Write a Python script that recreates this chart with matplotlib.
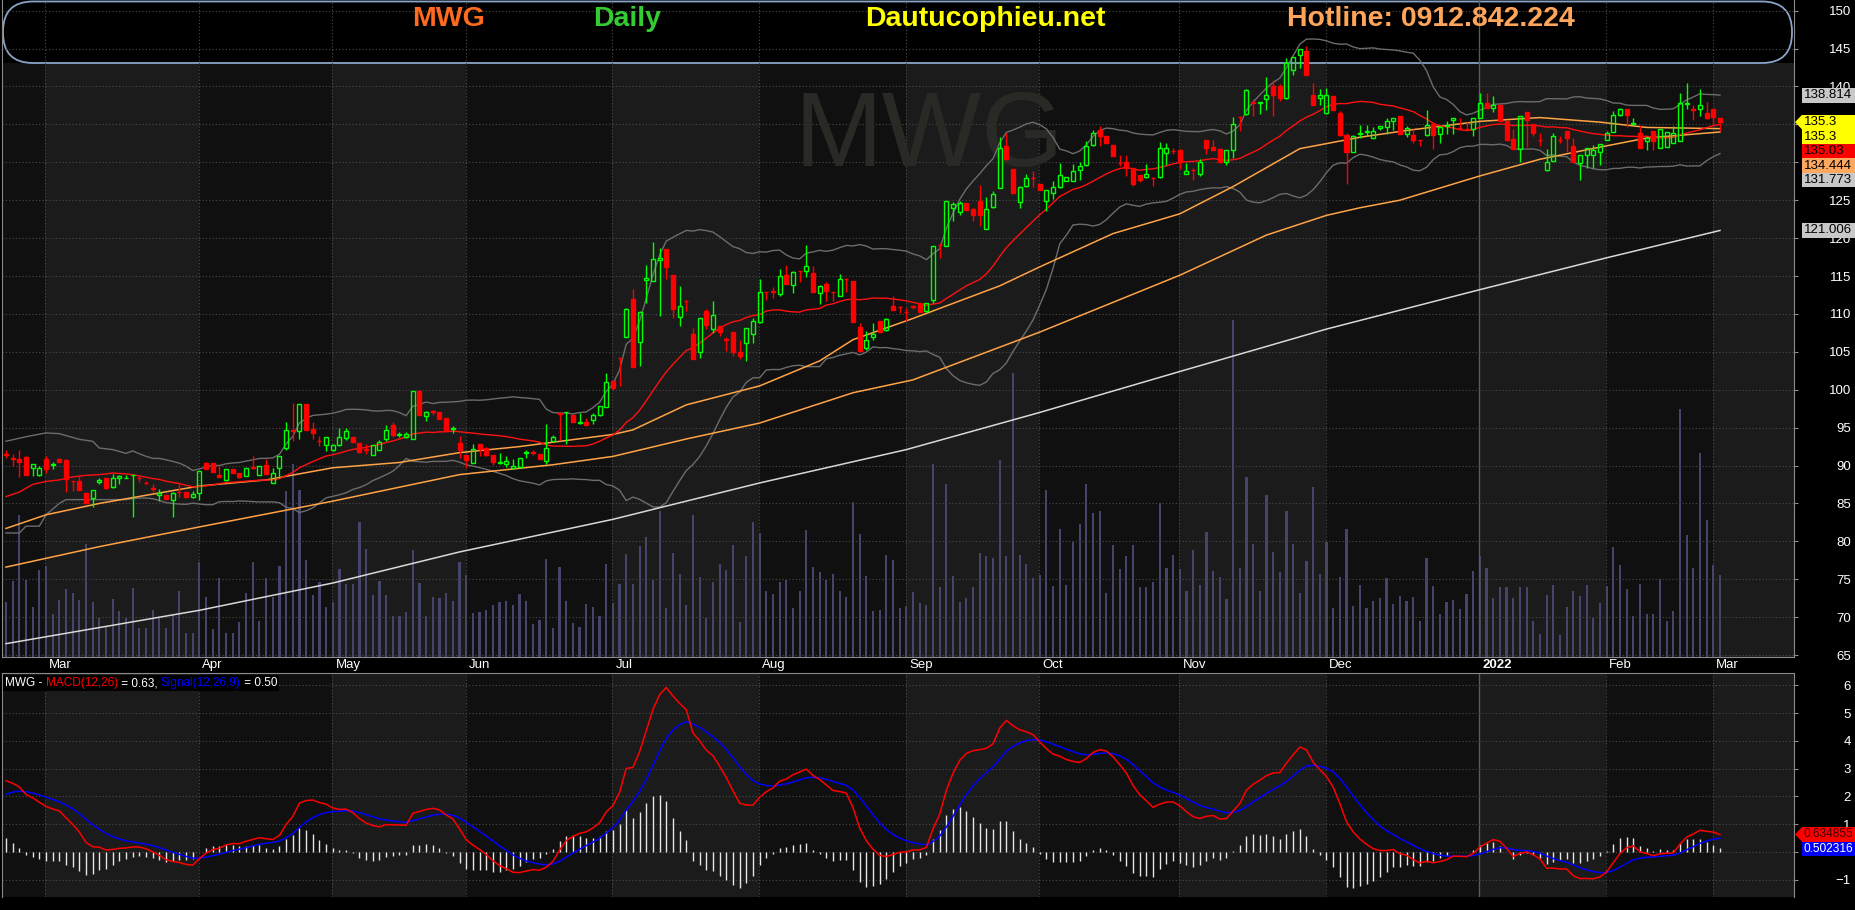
import matplotlib
matplotlib.use("Agg")
import matplotlib.pyplot as plt
import matplotlib.transforms as mtransforms
from matplotlib.patches import FancyBboxPatch, Rectangle, Polygon
import numpy as np
import pandas as pd

plt.rcParams['font.family'] = ['Liberation Sans', 'DejaVu Sans']

W, H = 1855, 910

# daily candles, late Feb 2021 .. 2 Mar 2022
opens = [
    91.5, 91.0, 90.8, 91.1, 89.7, 88.7, 90.9, 90.1, 90.9, 90.7,
    87.95, 87.9, 86.4, 85.7, 87.8, 88.4, 87.2, 88.3, 88.35, 88.7,
    88.4, 87.7, 87.0, 86.1, 86.1, 85.5, 86.5, 86.5, 85.9, 86.4,
    90.35, 90.35, 88.8, 88.05, 89.5, 89.0, 88.6, 89.8, 88.8, 90.1,
    87.7, 89.7, 92.3, 94.7, 94.5, 98.05, 94.8, 93.3, 92.7, 92.0,
    92.7, 93.6, 93.8, 93.0, 92.15, 91.4, 92.1, 93.5, 95.4, 94.05,
    93.8, 93.5, 99.8, 96.5, 97.15, 97.1, 96.3, 94.8, 93.0, 91.4,
    90.3, 92.9, 92.3, 91.4, 90.35, 90.2, 89.7, 89.8, 91.7, 91.75,
    91.5, 90.6, 93.2, 96.9, 97.0, 96.6, 95.6, 95.7, 96.0, 96.6,
    97.7, 101.1, 104.2, 106.9, 112.0, 106.3, 114.5, 114.3, 117.1, 118.5,
    115.1, 109.6, 111.7, 107.3, 105.0, 110.4, 108.0, 108.4, 106.65, 107.6,
    105.0, 106.2, 107.4, 108.9, 112.9, 113.0, 112.6, 115.1, 113.8, 115.7,
    115.7, 115.4, 112.7, 114.0, 112.9, 112.3, 114.65, 114.4, 108.3, 105.5,
    107.0, 109.0, 107.9, 111.0, 110.9, 110.25, 111.0, 111.4, 110.4, 111.8,
    119.15, 118.9, 124.0, 123.5, 124.6, 123.8, 124.9, 121.2, 124.1, 126.6,
    132.2, 129.1, 124.7, 126.9, 127.95, 127.1, 124.9, 126.0, 126.7, 127.5,
    127.5, 129.0, 129.6, 132.3, 134.2, 133.5, 132.3, 129.9, 130.05, 129.2,
    128.3, 128.0, 127.95, 128.0, 131.2, 131.55, 131.6, 128.5, 129.0, 128.4,
    133.0, 132.0, 131.8, 130.0, 131.6, 136.0, 136.4, 137.9, 137.8, 138.4,
    140.0, 140.0, 138.5, 142.2, 144.1, 144.7, 138.9, 138.5, 136.5, 138.8,
    136.5, 133.6, 131.4, 133.7, 134.0, 133.2, 134.5, 134.7, 135.4, 136.05,
    133.7, 133.6, 133.0, 133.6, 135.0, 133.7, 134.8, 135.6, 134.55, 134.45,
    134.4, 135.9, 137.8, 137.1, 137.5, 135.5, 133.1, 131.8, 136.6, 135.0,
    133.0, 129.0, 130.2, 133.0, 134.1, 132.2, 129.9, 131.0, 130.9, 131.3,
    133.0, 134.0, 136.3, 137.0, 135.0, 133.9, 132.8, 134.1, 131.9, 132.0,
    132.5, 132.8, 137.7, 137.0, 137.0, 136.5, 137.0, 135.8,
]
highs = [
    92.1, 91.5, 92.1, 91.2, 90.2, 90.0, 91.2, 90.4, 91.0, 90.9,
    88.0, 88.6, 86.4, 86.8, 88.3, 88.4, 88.9, 88.7, 88.7, 88.8,
    88.6, 88.0, 87.5, 86.9, 86.1, 86.5, 87.6, 86.5, 86.7, 89.3,
    90.4, 90.35, 90.0, 89.5, 89.5, 89.0, 89.7, 91.2, 89.9, 90.9,
    89.7, 91.2, 95.7, 98.3, 98.1, 98.1, 95.7, 93.9, 93.7, 92.8,
    95.0, 95.0, 93.8, 93.0, 92.8, 92.7, 93.4, 95.3, 95.7, 94.4,
    94.4, 99.8, 99.8, 97.2, 97.3, 97.1, 96.3, 95.2, 93.9, 91.4,
    92.9, 92.9, 92.5, 91.4, 91.6, 91.3, 90.9, 91.0, 92.1, 92.1,
    91.5, 95.5, 94.0, 96.9, 97.1, 96.6, 96.9, 96.3, 96.9, 97.8,
    102.2, 101.1, 104.2, 110.8, 113.3, 110.4, 116.4, 119.5, 118.7, 118.5,
    115.1, 113.7, 111.8, 108.2, 109.4, 110.7, 111.7, 108.4, 107.0, 107.6,
    106.6, 108.2, 109.5, 114.6, 112.9, 113.5, 115.9, 116.4, 115.7, 115.7,
    119.1, 116.3, 113.8, 114.2, 112.9, 115.2, 114.7, 114.4, 108.8, 107.7,
    108.8, 109.1, 109.5, 112.3, 111.0, 110.8, 111.1, 111.4, 111.4, 118.9,
    119.3, 124.9, 124.8, 124.9, 124.6, 124.0, 127.0, 125.4, 126.2, 133.4,
    133.9, 129.1, 126.9, 128.4, 128.9, 127.1, 126.3, 127.5, 129.9, 128.0,
    129.8, 130.0, 132.8, 134.2, 134.8, 133.5, 132.3, 130.9, 130.9, 129.2,
    128.3, 129.8, 128.0, 132.7, 132.5, 131.9, 131.8, 129.9, 129.2, 130.5,
    133.0, 133.0, 131.8, 131.6, 136.0, 136.1, 139.7, 138.4, 137.9, 141.3,
    140.8, 140.3, 143.8, 143.9, 145.0, 145.4, 140.5, 139.7, 139.8, 138.8,
    136.8, 133.8, 133.6, 134.9, 134.9, 134.7, 134.8, 135.9, 135.9, 136.05,
    134.8, 134.4, 133.0, 136.9, 135.0, 134.8, 135.4, 135.9, 135.9, 135.3,
    135.9, 139.1, 139.2, 138.7, 137.5, 135.5, 134.4, 136.1, 136.6, 135.0,
    133.9, 131.8, 133.9, 133.5, 134.1, 133.2, 131.0, 131.9, 132.3, 132.4,
    134.1, 136.8, 137.2, 137.0, 135.9, 134.9, 133.5, 134.1, 134.4, 134.0,
    134.8, 139.1, 140.5, 137.6, 139.7, 137.9, 137.0, 135.8,
]
lows = [
    91.0, 89.9, 88.5, 88.8, 88.6, 88.6, 89.0, 89.5, 90.4, 86.5,
    86.7, 86.8, 85.0, 84.5, 87.6, 86.9, 87.0, 87.6, 88.3, 83.2,
    87.8, 87.6, 86.5, 85.3, 85.6, 83.2, 85.9, 85.8, 85.7, 85.5,
    89.5, 89.1, 88.5, 88.0, 89.0, 88.4, 88.6, 89.5, 88.8, 88.9,
    87.7, 88.4, 92.1, 93.2, 93.5, 94.7, 93.5, 92.6, 91.9, 91.9,
    92.6, 93.4, 93.1, 91.6, 91.5, 91.4, 92.0, 93.3, 93.8, 93.7,
    93.6, 93.5, 96.6, 95.9, 96.6, 96.2, 94.5, 94.3, 91.0, 89.7,
    90.3, 91.2, 91.2, 90.1, 90.2, 89.8, 89.7, 89.7, 91.0, 91.4,
    90.9, 90.2, 93.1, 93.4, 92.8, 95.7, 95.5, 95.4, 95.5, 96.5,
    97.7, 100.0, 100.5, 106.9, 103.0, 103.1, 111.4, 114.3, 109.7, 114.6,
    109.4, 108.4, 110.4, 104.1, 104.2, 108.0, 107.5, 107.1, 105.1, 104.4,
    104.0, 103.8, 106.2, 108.8, 111.8, 112.1, 112.4, 113.9, 112.8, 114.2,
    114.9, 112.9, 111.3, 111.7, 111.7, 112.3, 112.9, 108.9, 105.1, 105.2,
    106.6, 107.6, 107.8, 110.5, 110.1, 109.0, 110.6, 110.3, 110.3, 111.5,
    117.4, 118.9, 122.3, 123.0, 123.7, 122.3, 121.6, 121.2, 124.0, 126.6,
    130.3, 126.0, 124.0, 126.8, 126.8, 126.3, 123.6, 125.2, 126.6, 127.5,
    127.5, 127.6, 129.5, 132.2, 132.1, 132.5, 130.8, 129.5, 128.2, 126.9,
    127.4, 127.9, 126.9, 127.9, 129.6, 131.1, 129.1, 128.5, 127.6, 128.2,
    131.1, 131.6, 129.9, 129.7, 130.6, 134.1, 136.2, 136.1, 136.4, 136.9,
    136.1, 138.1, 138.4, 141.5, 142.5, 141.5, 137.5, 137.6, 136.4, 136.9,
    133.5, 127.1, 131.4, 133.2, 133.5, 133.2, 134.2, 133.7, 134.2, 133.7,
    133.3, 132.6, 132.2, 133.5, 131.8, 132.6, 133.7, 133.7, 134.2, 134.2,
    133.5, 135.9, 137.1, 136.6, 135.5, 133.0, 131.8, 130.1, 132.0, 133.5,
    132.2, 128.8, 130.2, 132.5, 131.4, 130.0, 127.7, 129.2, 129.2, 129.7,
    133.0, 134.0, 136.1, 134.6, 135.0, 131.9, 131.6, 131.6, 131.9, 132.0,
    132.5, 132.8, 137.0, 135.6, 136.1, 135.7, 135.0, 134.1,
]
closes = [
    91.4, 90.9, 90.5, 88.8, 90.2, 89.7, 89.6, 90.2, 90.4, 88.2,
    87.9, 86.8, 85.0, 86.8, 88.1, 87.0, 88.3, 88.6, 88.4, 88.75,
    88.35, 87.65, 86.9, 86.4, 85.6, 86.4, 86.45, 85.9, 86.2, 89.3,
    89.5, 89.1, 88.5, 89.5, 89.0, 88.5, 89.7, 89.7, 89.9, 88.9,
    89.0, 91.2, 94.7, 94.6, 98.05, 94.7, 94.3, 93.2, 93.7, 92.7,
    93.7, 94.5, 93.1, 91.8, 92.1, 92.7, 93.1, 94.7, 94.0, 94.1,
    94.2, 99.8, 96.6, 97.1, 97.1, 96.2, 94.7, 94.9, 92.0, 90.7,
    92.2, 92.2, 91.4, 90.4, 90.4, 90.6, 90.0, 91.0, 91.75, 91.7,
    90.9, 92.3, 93.8, 96.85, 97.05, 95.7, 95.7, 95.4, 96.7, 97.8,
    101.0, 100.2, 104.15, 110.7, 103.0, 110.2, 114.7, 117.3, 117.4, 116.2,
    110.6, 111.1, 111.65, 104.1, 109.4, 108.5, 109.8, 107.6, 106.6, 105.0,
    104.4, 108.2, 109.1, 112.9, 112.85, 112.95, 115.0, 113.9, 115.5, 115.65,
    116.3, 112.9, 113.7, 113.0, 112.85, 114.6, 114.6, 108.9, 105.1, 106.6,
    107.4, 107.6, 109.3, 110.5, 110.85, 110.2, 110.95, 110.3, 111.4, 118.9,
    119.1, 124.9, 124.5, 124.6, 123.7, 123.0, 123.0, 123.8, 125.8, 131.9,
    130.5, 126.0, 126.7, 127.9, 127.9, 126.3, 126.3, 126.8, 128.3, 128.0,
    128.8, 129.5, 132.1, 133.9, 133.5, 132.5, 130.8, 129.85, 129.2, 127.1,
    127.6, 128.4, 127.9, 131.9, 131.9, 131.5, 130.0, 128.9, 128.95, 130.1,
    131.9, 131.6, 130.0, 131.6, 135.0, 135.95, 139.5, 137.85, 137.9, 138.9,
    138.9, 138.5, 143.1, 143.9, 145.0, 141.5, 137.5, 138.9, 138.9, 136.9,
    133.6, 131.4, 133.5, 133.9, 134.1, 134.1, 134.8, 135.4, 135.9, 133.7,
    134.5, 133.0, 132.95, 134.9, 133.6, 134.6, 134.9, 135.9, 134.5, 134.4,
    135.9, 137.8, 137.1, 137.5, 135.5, 133.0, 131.8, 136.1, 135.6, 133.9,
    132.95, 130.1, 133.5, 132.9, 133.2, 130.0, 131.0, 131.9, 131.6, 132.4,
    133.9, 136.2, 137.0, 136.3, 135.2, 131.9, 133.2, 132.8, 134.4, 134.0,
    133.9, 137.8, 137.8, 136.95, 137.5, 135.9, 136.0, 135.3,
]
# volume, millions of shares
volumes = [
    0.83, 1.16, 2.16, 1.17, 0.76, 1.33, 1.38, 0.65, 0.87, 1.03,
    0.97, 0.87, 1.72, 0.83, 0.60, 0.46, 0.88, 0.70, 0.60, 1.05,
    0.44, 0.44, 0.72, 0.60, 0.44, 0.65, 1.00, 0.36, 0.37, 1.44,
    0.91, 0.42, 1.20, 0.37, 0.37, 0.53, 0.98, 1.44, 0.55, 1.20,
    0.91, 1.38, 2.53, 2.94, 2.54, 1.48, 0.94, 1.14, 0.76, 0.83,
    1.34, 1.11, 1.11, 2.05, 1.64, 0.95, 1.15, 0.94, 0.62, 0.62,
    0.69, 1.63, 1.13, 0.62, 0.91, 0.90, 0.97, 0.85, 1.44, 1.25,
    0.67, 0.68, 0.72, 0.79, 0.83, 0.85, 0.79, 0.96, 0.85, 0.50,
    0.57, 1.49, 0.44, 1.37, 0.85, 0.52, 0.46, 0.80, 0.76, 0.62,
    1.42, 0.82, 1.11, 1.57, 1.11, 1.69, 1.82, 1.17, 2.22, 0.75,
    1.59, 1.27, 0.79, 2.16, 1.22, 0.60, 1.14, 1.42, 1.32, 1.70,
    0.54, 1.53, 2.06, 1.89, 1.00, 0.96, 1.14, 1.17, 0.75, 1.01,
    1.93, 1.37, 1.30, 1.17, 1.27, 1.00, 0.92, 2.36, 1.87, 1.24,
    0.70, 0.72, 1.55, 1.47, 0.75, 0.77, 0.99, 0.82, 0.79, 2.94,
    1.07, 2.63, 1.23, 0.84, 0.90, 1.07, 1.59, 1.54, 1.50, 3.00,
    1.53, 4.32, 1.56, 1.41, 1.21, 1.25, 2.54, 1.08, 1.95, 1.10,
    1.75, 2.03, 2.64, 2.19, 2.22, 0.97, 1.70, 1.34, 1.54, 1.71,
    1.07, 1.07, 1.14, 2.35, 1.36, 1.56, 1.34, 1.01, 1.63, 1.10,
    1.90, 1.31, 1.22, 0.89, 5.13, 1.36, 2.74, 1.72, 1.00, 2.47,
    1.60, 1.29, 2.22, 1.72, 0.98, 1.46, 2.59, 1.26, 1.75, 0.74,
    1.22, 1.95, 0.77, 1.10, 0.75, 0.85, 0.90, 1.20, 0.80, 0.93,
    0.85, 0.91, 0.55, 1.50, 1.08, 0.65, 0.84, 0.87, 0.73, 0.96,
    1.31, 1.54, 1.36, 0.90, 1.07, 1.07, 0.90, 1.07, 1.07, 0.55,
    0.35, 0.94, 1.10, 0.33, 0.76, 1.00, 0.93, 1.10, 0.60, 0.82,
    1.08, 1.67, 1.40, 1.04, 0.62, 1.11, 0.66, 0.66, 1.18, 0.55,
    0.70, 3.77, 1.86, 1.35, 3.10, 2.09, 1.40, 1.25,
]

# long moving averages read at sample bars (their history starts before the chart)
ma50_bars = [0, 6, 14, 29, 39, 49, 59, 68, 77, 91, 94, 102, 113, 122, 127, 136,
             149, 155, 166, 176, 184, 194, 203, 210, 221, 230, 239, 246, 257]
ma50_vals = [81.7, 83.5, 85.0, 87.3, 88.1, 89.7, 90.4, 91.7, 92.5, 94.1, 94.7, 98.0,
             100.5, 103.8, 106.6, 109.4, 113.7, 116.2, 120.6, 123.2, 126.8, 131.8,
             133.3, 134.2, 135.4, 135.9, 135.3, 134.6, 134.444]
ma100_bars = [0, 14, 29, 49, 68, 82, 91, 102, 113, 127, 136, 155, 176, 189, 198,
              203, 209, 215, 221, 230, 239, 246, 257]
ma100_vals = [76.6, 79.3, 81.9, 85.3, 88.8, 90.1, 91.2, 93.5, 95.6, 99.6, 101.3, 107.6,
              115.1, 120.4, 123.0, 124.0, 125.0, 126.6, 128.2, 130.4, 132.0, 133.2, 134.0]
ma200_bars = [0, 29, 49, 68, 91, 113, 135, 155, 176, 198, 221, 240, 257]
ma200_vals = [66.5, 70.9, 74.5, 78.6, 82.9, 87.7, 92.1, 97.0, 102.4, 108.0, 113.2,
              117.4, 121.006]

# 20-day band before a full window exists on the chart
ma20_head_bars = [0, 2, 4, 6, 8, 10, 12, 14, 16, 18]
ma20_head_vals = [85.9, 86.5, 87.5, 87.9, 88.1, 88.5, 88.7, 88.8, 89.0, 88.9]
bbup_head_bars = [0, 3, 6, 8, 11, 13, 14, 16, 18]
bbup_head_vals = [93.2, 93.8, 94.3, 94.2, 93.45, 93.2, 92.3, 92.1, 91.6]
bblo_head_bars = [0, 2, 3, 5, 6, 8, 9, 18]
bblo_head_vals = [81.1, 81.1, 82.0, 82.0, 83.5, 85.0, 85.5, 85.5]

# MACD state at the first bar
ema12_start, ema26_start, signal_start = 89.4, 86.8, 1.95

month_starts = [6, 29, 49, 69, 91, 113, 135, 155, 176, 198, 221, 240, 256]
month_labels = ["Mar", "Apr", "May", "Jun", "Jul", "Aug", "Sep", "Oct", "Nov",
                "Dec", "2022", "Feb", "Mar"]

price_tags = [(138.814, "138.814", "#c8c8c8", "black", False),
              (135.3, "135.3", "#ffff00", "black", True),
              (135.3, "135.3", "#ffff00", "black", False),
              (135.03, "135.03", "#ff0000", "black", False),
              (134.444, "134.444", "#ffa860", "black", False),
              (131.773, "131.773", "#c8c8c8", "black", False),
              (121.006, "121.006", "#c8c8c8", "black", False)]
macd_tags = [(0.634855, "0.634855", "#ff0000", "#400000", True),
             (0.502316, "0.502316", "#0000ff", "white", False)]

# ---------------- indicators ----------------
cl = pd.Series(closes)
ma20 = cl.rolling(20).mean()
sd20 = cl.rolling(20).std(ddof=0)
bb_up = ma20 + 2 * sd20
bb_lo = ma20 - 2 * sd20

e12, e26, sg = ema12_start, ema26_start, signal_start
macd, signal = [], []
for c in closes:
    e12 += (c - e12) * 2 / 13
    e26 += (c - e26) * 2 / 27
    m = e12 - e26
    sg += (m - sg) * 2 / 10
    macd.append(m)
    signal.append(sg)
macd = np.array(macd)
signal = np.array(signal)
hist = macd - signal

# ---------------- figure ----------------
fig = plt.figure(figsize=(W / 100, H / 100), dpi=100, facecolor="black")

def rect(l, t, r, b):
    return [l / W, 1 - b / H, (r - l) / W, (b - t) / H]

ax_v = fig.add_axes(rect(2, 0, 1794, 657))     # background + volume
ax = ax_v.twinx()                             # price
ax_m = fig.add_axes(rect(2, 673, 1794, 897))   # MACD
ax_v.set_zorder(0)
ax.set_zorder(1)
ax.patch.set_visible(False)

idx = np.arange(len(closes))
xlim = (-0.6, 268.1)
edges = [xlim[0]] + [m - 0.08 for m in month_starts] + [xlim[1]]
shade = ["#101010", "#1b1b1b"]

ax_v.set_facecolor("black")
ax_v.set_xlim(*xlim)
ax_v.set_ylim(0, 10)
header_frac = (657 - 63) / 657
for ax_ in (ax_v, ax_m):
    for k in range(len(edges) - 1):
        ax_.axvspan(edges[k], edges[k + 1], ymax=(header_frac if ax_ is ax_v else 1),
                    color=shade[k % 2], lw=0, zorder=0)
ax_m.set_facecolor("black")

# header capsule
ident = mtransforms.IdentityTransform()
cap = FancyBboxPatch((3, H - 63), 1789, 61.5,
                     boxstyle="round,pad=0,rounding_size=30",
                     transform=ident, facecolor="black", edgecolor="#8aa4c8",
                     lw=1.3, zorder=0.5)
ax_v.add_patch(cap)

ax_v.bar(idx, volumes, width=0.32, color="#45456c", zorder=1)
ax_v.set_yticks([])
ax_v.set_xticks([])
for s in ax_v.spines.values():
    s.set_visible(False)

# price panel
ax.set_xlim(*xlim)
ax.set_ylim(64.74, 151.41)
grid_kw = dict(color="#4c4c4c", lw=0.8, linestyle=(0, (1, 2)))
for p in np.arange(65, 151, 5):
    ax.axhline(p, zorder=0.5, **grid_kw)
for ax_ in (ax, ax_m):
    for m, lab in zip(month_starts, month_labels):
        if lab == "2022":
            ax_.axvline(m - 0.08, color="#5a5a5a", lw=1, zorder=0.5)
        else:
            ax_.axvline(m - 0.08, zorder=0.5, **grid_kw)

ax.text(0.5175, 0.747, "MWG", transform=ax.transAxes, ha="center", va="baseline",
        fontsize=76, color="#292925", family=["Liberation Sans Narrow", "Liberation Sans"],
        zorder=1)

full = idx >= 19
ax.plot(list(bbup_head_bars) + list(idx[full]), list(bbup_head_vals) + list(bb_up[full]),
        color="#6c6c6c", lw=1, zorder=2)
ax.plot(list(bblo_head_bars) + list(idx[full]), list(bblo_head_vals) + list(bb_lo[full]),
        color="#6c6c6c", lw=1, zorder=2)
ax.plot(ma200_bars, ma200_vals, color="#d8d8d8", lw=1.1, zorder=2.5)
ax.plot(ma100_bars, ma100_vals, color="#ffa347", lw=1.1, zorder=2.5)
ax.plot(ma50_bars, ma50_vals, color="#ffa347", lw=1.1, zorder=2.5)
ax.plot(list(ma20_head_bars) + list(idx[full]), list(ma20_head_vals) + list(ma20[full]),
        color="#ff1010", lw=1, zorder=2.6)

o = np.array(opens)
c = np.array(closes)
hi = np.array(highs)
lo = np.array(lows)
up = c >= o
body_lo = np.minimum(o, c)
body_hi = np.maximum(o, c)
body_h = np.maximum(body_hi - body_lo, 0.05)
for mask, col, face in ((up, "#00ff00", "none"), (~up, "#ff0000", "#ff0000")):
    ax.vlines(idx[mask], lo[mask], body_lo[mask], color=col, lw=1, zorder=3)
    ax.vlines(idx[mask], body_hi[mask], hi[mask], color=col, lw=1, zorder=3)
    ax.bar(idx[mask], body_h[mask], bottom=body_lo[mask], width=0.6,
           facecolor=face, edgecolor=col, lw=1, zorder=4)

ax.yaxis.tick_right()
ax.set_yticks(np.arange(65, 151, 5))
ax.tick_params(axis="y", color="#909090", labelcolor="white", labelsize=9.5,
               length=3, pad=38)
ax.set_xticks(month_starts)
ax.set_xticklabels([])
ax.tick_params(axis="x", color="white", length=3)
for side, s in ax.spines.items():
    if side == "top":
        s.set_visible(False)
    else:
        s.set_color("#8a8a8a")

for m, lab in zip(month_starts, month_labels):
    ax.annotate(lab, (m, 0), xycoords=("data", "axes fraction"), xytext=(2, -6),
                textcoords="offset points", ha="left", va="center", color="white",
                fontsize=9.5, fontweight=("bold" if lab == "2022" else "normal"))

# MACD panel
ax_m.set_xlim(*xlim)
ax_m.set_ylim(-1.62, 6.44)
for v in range(-1, 7):
    ax_m.axhline(v, zorder=0.5, **grid_kw)
ax_m.vlines(idx, 0, hist, color="#e6e6e6", lw=1, zorder=2)
ax_m.plot(idx, signal, color="#0000ff", lw=1.1, zorder=3)
ax_m.plot(idx, macd, color="#ff0000", lw=1.1, zorder=3)
ax_m.yaxis.tick_right()
ax_m.set_yticks(range(-1, 7))
ax_m.tick_params(axis="y", color="#909090", labelcolor="white", labelsize=9.5,
                 length=3, pad=38)
ax_m.set_xticks([])
for side, s in ax_m.spines.items():
    s.set_color("#8a8a8a")
    if side == "bottom":
        s.set_visible(False)

# header texts
hdr = dict(fontsize=20.5, fontweight="bold", va="baseline", ha="center")
fig.text(448 / W, 1 - 26 / H, "MWG", color="#ff6a1f", **hdr)
fig.text(627 / W, 1 - 26 / H, "Daily", color="#33cc33", **hdr)
fig.text(985 / W, 1 - 26 / H, "Dautucophieu.net", color="#ffff00", **hdr)
fig.text(1431 / W, 1 - 26 / H, "Hotline: 0912.842.224", color="#ffa55a", **hdr)

# MACD legend line
renderer = fig.canvas.get_renderer()
pieces = [("MWG - ", "white"), ("MACD(12,26)", "#ff0000"), (" = 0.63, ", "white"),
          ("Signal(12,26,9)", "#0000ff"), (" = 0.50", "white")]
x0 = 5
y_leg = H - 683
start = x0
for txt, col in pieces:
    t = fig.text(x0, y_leg, txt, color=col, fontsize=8.5, va="center", ha="left",
                 transform=ident, zorder=6)
    x0 += t.get_window_extent(renderer).width
fig.add_artist(Rectangle((start - 2, y_leg - 8), x0 - start + 4, 16, transform=ident,
                         facecolor="black", edgecolor="none", zorder=5))

# value tags on the right, stacked downwards so they never overlap;
# tick labels sitting under a tag are hidden, as on the original
def draw_tags(axis, tags, left=1802, h=14.5, size=9.5):
    last = 1e9
    centres = []
    for val, txt, face, fg, arrow in tags:
        yc = axis.transData.transform((0, val))[1]
        yc = min(yc, last - h)
        last = yc
        centres.append(yc)
        fig.add_artist(Rectangle((left, yc - h / 2), W - left, h, transform=ident,
                                 facecolor=face, edgecolor="none", zorder=7))
        if arrow:
            fig.add_artist(Polygon([(1795, yc), (left, yc + h / 2), (left, yc - h / 2)],
                                   transform=ident, facecolor=face, edgecolor="none",
                                   zorder=7))
        fig.text(left + 1.5, yc, txt, color=fg, fontsize=size, va="center", ha="left",
                 transform=ident, zorder=8)
    for t, tick_val in zip(axis.get_yticklabels(), axis.get_yticks()):
        t.set_ha("right")
        ty = axis.transData.transform((0, tick_val))[1]
        if any(abs(ty - yc) < h / 2 for yc in centres):
            t.set_visible(False)

draw_tags(ax, price_tags)
draw_tags(ax_m, macd_tags, size=8.6)

fig.savefig("out.png", dpi=100, facecolor="black")
